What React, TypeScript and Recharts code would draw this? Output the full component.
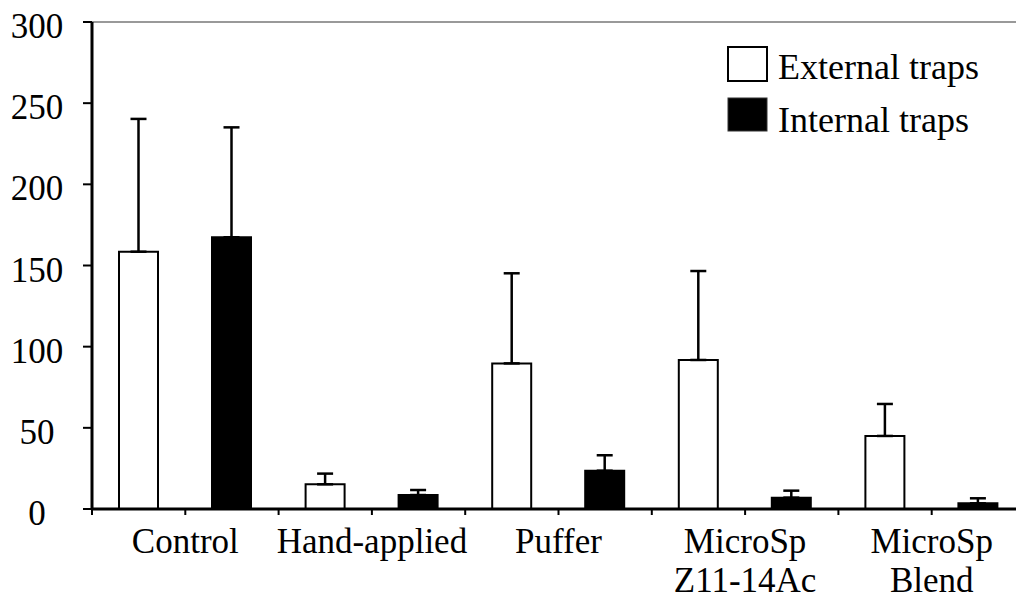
import React from "react";
import {
  BarChart,
  Bar,
  XAxis,
  YAxis,
  ErrorBar,
  Legend,
  ReferenceLine,
} from "recharts";

const CATEGORIES = ["Control", "Hand-applied", "Puffer", "MicroSp\nZ11-14Ac", "MicroSp\nBlend"];
const EXTERNAL = [158.5, 15.2, 89.7, 91.8, 45.0];
const EXTERNAL_ERR = [81.8, 6.6, 55.5, 54.8, 19.7];
const INTERNAL = [167.4, 8.6, 23.6, 7.0, 3.5];
const INTERNAL_ERR = [67.7, 3.1, 9.5, 4.3, 3.1];
const Y_TICKS = [0, 50, 100, 150, 200, 250, 300];

const FONT = "'Liberation Serif', Tinos, 'Times New Roman', Times, 'DejaVu Serif', 'Noto Serif', serif";

const data = CATEGORIES.map((c, i) => ({
  name: c,
  external: EXTERNAL[i],
  externalErr: [0, EXTERNAL_ERR[i]],
  internal: INTERNAL[i],
  internalErr: [0, INTERNAL_ERR[i]],
}));

function XTick(props: any) {
  const { x, y, payload } = props;
  const half = payload.offset || 93.3;
  const lines = String(payload.value).split("\n");
  return (
    <g>
      <line x1={x - half} x2={x - half} y1={y - 6} y2={y} stroke="#000" strokeWidth={2} />
      {lines.map((l, i) => (
        <text
          key={i}
          x={x}
          y={y + 38 + i * 39}
          textAnchor="middle"
          style={{ fontFamily: FONT, fontSize: 35 }}
          fill="#000"
        >
          {l}
        </text>
      ))}
    </g>
  );
}

function YTick(props: any) {
  const { y, payload } = props;
  return (
    <text x={37} y={y + 16} textAnchor="middle" style={{ fontFamily: FONT, fontSize: 35 }} fill="#000">
      {payload.value}
    </text>
  );
}

function LegendBox() {
  return (
    <svg width={290} height={100} style={{ display: "block" }}>
      <rect x={1} y={1} width={39} height={34} fill="#fff" stroke="#000" strokeWidth={2} />
      <text x={51} y={33} style={{ fontFamily: FONT, fontSize: 36 }} fill="#000">
        External traps
      </text>
      <rect x={1} y={52} width={39} height={33} fill="#000" stroke="#333" strokeWidth={1} />
      <text x={51} y={86} style={{ fontFamily: FONT, fontSize: 36 }} fill="#000">
        Internal traps
      </text>
    </svg>
  );
}

export default function App() {
  return (
    <div
      style={{
        position: "fixed",
        left: 0,
        top: 0,
        width: 1016,
        height: 600,
        overflow: "hidden",
        background: "#fff",
        fontFamily: FONT,
      }}
    >
      <BarChart
        width={1040}
        height={600}
        data={data}
        margin={{ top: 22, right: 15, bottom: 0, left: 0 }}
        barSize={39}
        barGap={54}
      >
        <ReferenceLine y={300} stroke="#999" strokeWidth={2} />
        <XAxis
          dataKey="name"
          height={91}
          interval={0}
          tickSize={6}
          tickMargin={0}
          tick={<XTick />}
          axisLine={{ stroke: "#000", strokeWidth: 3 }}
          tickLine={{ stroke: "#000", strokeWidth: 2 }}
        />
        <YAxis
          width={92}
          domain={[0, 300]}
          ticks={Y_TICKS}
          interval={0}
          tickSize={9}
          tick={<YTick />}
          axisLine={{ stroke: "#000", strokeWidth: 3 }}
          tickLine={{ stroke: "#000", strokeWidth: 2 }}
        />
        <Legend
          layout="vertical"
          align="center"
          verticalAlign="middle"
          content={() => <LegendBox />}
          wrapperStyle={{ position: "absolute", left: 727, top: 46, width: 290, height: 100 }}
        />
        <Bar
          dataKey="external"
          name="External traps"
          fill="#fff"
          stroke="#000"
          strokeWidth={2}
          isAnimationActive={false}
        >
          <ErrorBar dataKey="externalErr" direction="y" width={8} stroke="#000" strokeWidth={2.5} />
        </Bar>
        <Bar
          dataKey="internal"
          name="Internal traps"
          fill="#000"
          stroke="#000"
          strokeWidth={2}
          isAnimationActive={false}
        >
          <ErrorBar dataKey="internalErr" direction="y" width={8} stroke="#000" strokeWidth={2.5} />
        </Bar>
      </BarChart>
    </div>
  );
}
